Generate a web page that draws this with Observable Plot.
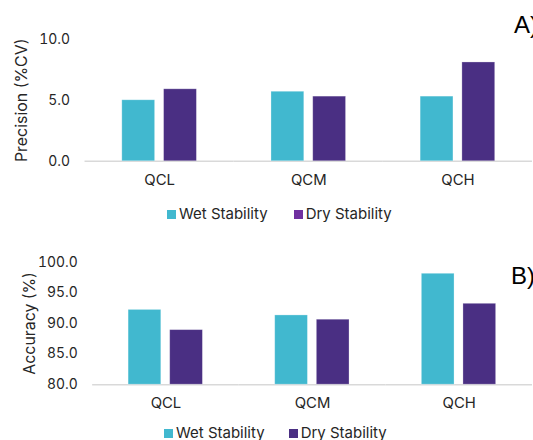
<!DOCTYPE html>
<html><head><meta charset="utf-8">
<script src="https://cdn.jsdelivr.net/npm/d3@7"></script>
<script src="https://cdn.jsdelivr.net/npm/@observablehq/plot@0.6"></script>
<style>
html,body{margin:0;padding:0;background:#fff;width:533px;height:440px;overflow:hidden;position:relative;font-family:Inter,"Noto Sans",sans-serif;color:#262626;}
.panel{position:absolute;left:0;}
.legend{position:absolute;display:flex;align-items:center;font-size:15px;line-height:18px;white-space:nowrap;}
.sw{display:inline-block;width:9px;height:9px;margin-right:3px;}
.item{display:flex;align-items:center;}
.tag{position:absolute;font-family:"Liberation Sans",sans-serif;font-size:24px;color:#000;white-space:nowrap;}
</style></head><body>
<div id="a" class="panel" style="top:0"></div>
<div id="la" class="legend" style="left:167px;top:205px"></div>
<div id="b" class="panel" style="top:222px"></div>
<div id="lb" class="legend" style="left:164px;top:424px"></div>
<div class="tag" style="left:514px;top:11px">A)</div>
<div class="tag" style="left:511px;top:262px">B)</div>
<script>
const groups = ["QCL", "QCM", "QCH"];
const series = ["Wet Stability", "Dry Stability"];
const precisionWet = [5.0, 5.7, 5.3];
const precisionDry = [5.9, 5.3, 8.1];
const accuracyWet = [92.2, 91.3, 98.1];
const accuracyDry = [88.9, 90.6, 93.2];
const precisionTicks = [0, 5, 10];
const accuracyTicks = [80, 85, 90, 95, 100];
const barColors = ["#41B8CF", "#4A2F83"];
const legendColorsA = ["#41B8CF", "#7030A0"];
const legendColorsB = ["#41B8CF", "#4A2F83"];

function rows(wet, dry) {
  const out = [];
  groups.forEach((g, i) => {
    out.push({group: g, series: series[0], value: wet[i]});
    out.push({group: g, series: series[1], value: dry[i]});
  });
  return out;
}

function panel({data, ticks, label, height, marginTop, marginBottom, marginLeft, width}) {
  return Plot.plot({
    width, height, marginTop, marginBottom, marginLeft, marginRight: 0,
    style: {fontFamily: "Inter, 'Noto Sans', sans-serif", color: "#262626", background: "#fff", overflow: "visible"},
    fx: {domain: groups, padding: 0, label: null},
    x: {domain: series, paddingInner: 0.219, paddingOuter: 0.865, axis: null},
    y: {domain: [ticks[0], ticks[ticks.length - 1]], label},
    color: {domain: series, range: barColors},
    marks: [
      Plot.ruleY([ticks[0]], {stroke: "#d9d9d9", strokeWidth: 1.5}),
      Plot.barY(data, {fx: "group", x: "series", y1: () => ticks[0], y2: "value", fill: "series", stroke: "#ffffff", strokeOpacity: 0.35, strokeWidth: 0.8}),
      Plot.axisY({ticks, tickSize: 0, tickPadding: 15, tickFormat: d3.format(".1f"), fontSize: 14, label: null}),
      Plot.axisY({ticks: [], tickSize: 0, label, labelAnchor: "center", labelArrow: "none", labelOffset: 70, fontSize: 16}),
      Plot.axisFx({anchor: "bottom", tickSize: 0, tickPadding: 13, fontSize: 15, label: null})
    ]
  });
}

document.getElementById("a").append(panel({
  data: rows(precisionWet, precisionDry), ticks: precisionTicks, label: "Precision (%CV)",
  width: 536, height: 200, marginTop: 39, marginBottom: 38.3, marginLeft: 83.5
}));
document.getElementById("b").append(panel({
  data: rows(accuracyWet, accuracyDry), ticks: accuracyTicks, label: "Accuracy (%)",
  width: 538, height: 196, marginTop: 40, marginBottom: 32.3, marginLeft: 92.7
}));

function legend(id, colors, gap) {
  const el = document.getElementById(id);
  series.forEach((s, i) => {
    const item = document.createElement("span");
    item.className = "item";
    if (i > 0) item.style.marginLeft = gap + "px";
    const sw = document.createElement("span");
    sw.className = "sw";
    sw.style.background = colors[i];
    item.append(sw, document.createTextNode(s));
    el.append(item);
  });
}
legend("la", legendColorsA, 26);
legend("lb", legendColorsB, 24);
</script>
</body></html>
